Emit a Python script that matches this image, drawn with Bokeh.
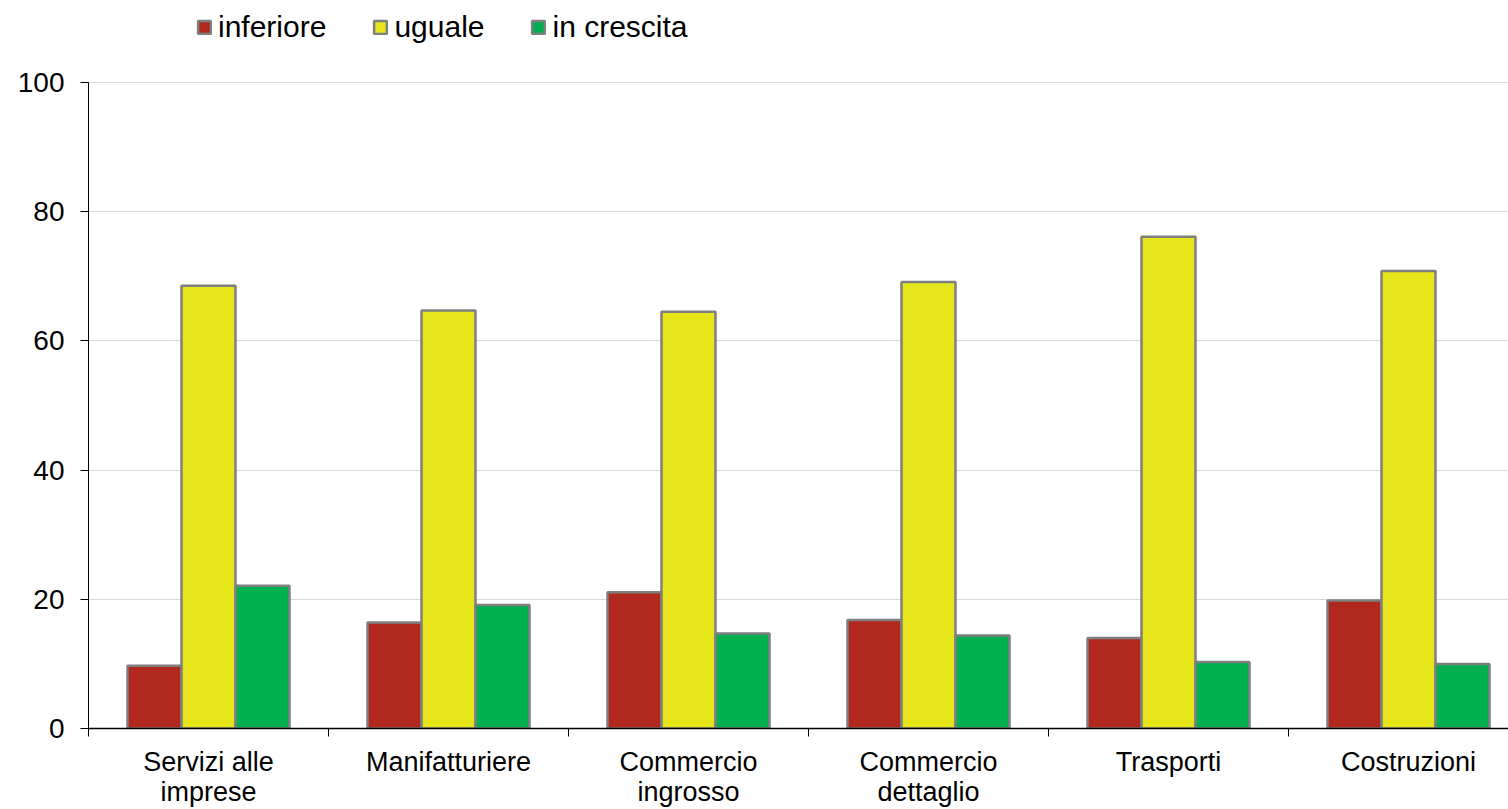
from bokeh.plotting import figure
from bokeh.models import FixedTicker, Range1d, Legend, LegendItem, ColumnDataSource
from bokeh.embed import file_html
from bokeh.resources import INLINE

categories = ["Servizi alle imprese", "Manifatturiere", "Commercio ingrosso",
              "Commercio dettaglio", "Trasporti", "Costruzioni"]
tick_labels = ["Servizi alle\nimprese", "Manifatturiere", "Commercio\ningrosso",
               "Commercio\ndettaglio", "Trasporti", "Costruzioni"]
series_names = ["inferiore", "uguale", "in crescita"]
inferiore = [9.7, 16.4, 21.1, 16.8, 14.0, 19.8]
uguale = [68.5, 64.7, 64.5, 69.1, 76.1, 70.8]
in_crescita = [22.1, 19.1, 14.7, 14.4, 10.3, 10.0]
y_ticks = [0, 20, 40, 60, 80, 100]

colors = ["#B0281E", "#E6E61A", "#00B050"]
FONT = "Liberation Sans"

centers = [i + 0.5 for i in range(len(categories))]
bounds = list(range(len(categories) + 1))

# frame spans the full canvas height above the x axis; the legend sits above the 100 line
y_end = 100 * 730 / 648

p = figure(width=1508, height=809, output_backend="svg", toolbar_location=None,
           x_range=Range1d(0, 1420 / 240), y_range=Range1d(0, y_end),
           min_border_left=88, min_border_right=0, min_border_top=0,
           min_border_bottom=78)
p.outline_line_color = None
p.background_fill_color = "white"
p.border_fill_color = "white"

width = 0.225
offsets = [-0.225, 0.0, 0.225]
renderers = []
for vals, off, col in zip([inferiore, uguale, in_crescita], offsets, colors):
    src = ColumnDataSource(dict(x=[c + off for c in centers], top=vals))
    r = p.vbar(x="x", top="top", bottom=0, width=width, source=src,
               fill_color=col, line_color="#7F7F7F", line_width=2.5)
    renderers.append(r)

# x axis
p.xaxis.ticker = FixedTicker(ticks=centers, minor_ticks=bounds)
p.xaxis.major_label_overrides = {c: t for c, t in zip(centers, tick_labels)}
p.xaxis.major_tick_out = 0
p.xaxis.major_tick_in = 0
p.xaxis.minor_tick_out = 8
p.xaxis.minor_tick_in = 0
p.xaxis.minor_tick_line_color = "black"
p.xaxis.axis_line_color = "black"
p.xaxis.axis_line_width = 1.5
p.xaxis.major_label_text_font = FONT
p.xaxis.major_label_text_font_size = "27px"
p.xaxis.major_label_text_color = "black"
p.xaxis.major_label_standoff = 10
p.xaxis.major_label_text_line_height = 1.0

# y axis
p.yaxis.ticker = FixedTicker(ticks=y_ticks)
p.yaxis.bounds = (0, 100)
p.yaxis.major_tick_out = 8
p.yaxis.major_tick_in = 0
p.yaxis.minor_tick_out = 0
p.yaxis.minor_tick_in = 0
p.yaxis.axis_line_color = "black"
p.yaxis.major_tick_line_color = "black"
p.yaxis.major_label_text_font = FONT
p.yaxis.major_label_text_font_size = "28px"
p.yaxis.major_label_text_color = "black"
p.yaxis.major_label_standoff = 16

p.xgrid.grid_line_color = None
p.ygrid.grid_line_color = "#D9D9D9"
p.ygrid.grid_line_width = 1

legend = Legend(items=[LegendItem(label=n, renderers=[r]) for n, r in zip(series_names, renderers)],
                orientation="horizontal", location=(108, 684),
                glyph_width=16, glyph_height=16, label_standoff=6, spacing=46,
                padding=0, margin=0, border_line_color=None,
                background_fill_alpha=0,
                label_text_font=FONT, label_text_font_size="30px",
                label_text_color="black")
p.add_layout(legend)

open("out.html", "w").write(file_html(p, INLINE))
